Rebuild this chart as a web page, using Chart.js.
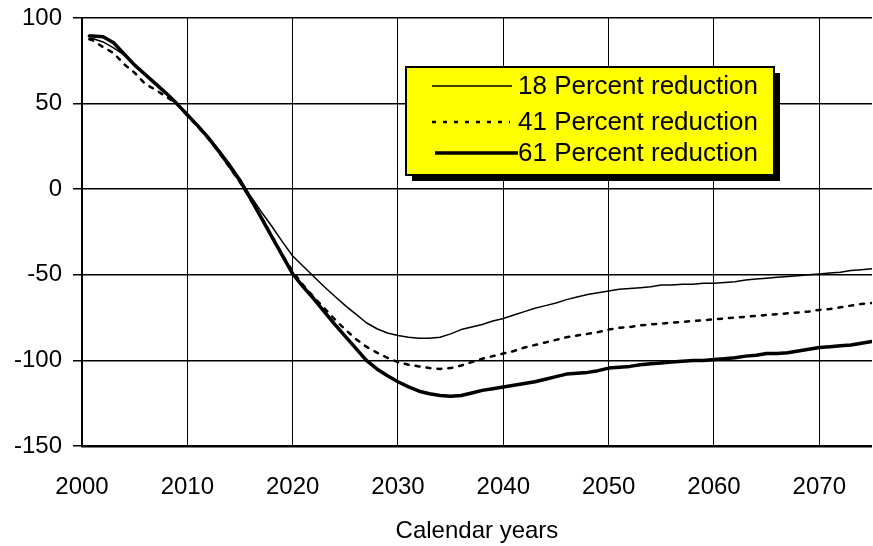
<!DOCTYPE html>
<html>
<head>
<meta charset="utf-8">
<script src="https://cdn.jsdelivr.net/npm/chart.js@4"></script>
<style>
  body { margin: 0; background: #fff; }
</style>
</head>
<body>
<canvas id="myChart" width="873" height="546"></canvas>
<script>
var years = [2000.7, 2001, 2002, 2003, 2004, 2005, 2006, 2007, 2008, 2009,
    2010, 2011, 2012, 2013, 2014, 2015, 2016, 2017, 2018, 2019,
    2020, 2021, 2022, 2023, 2024, 2025, 2026, 2027, 2028, 2029,
    2030, 2031, 2032, 2033, 2034, 2035, 2036, 2037, 2038, 2039,
    2040, 2041, 2042, 2043, 2044, 2045, 2046, 2047, 2048, 2049,
    2050, 2051, 2052, 2053, 2054, 2055, 2056, 2057, 2058, 2059,
    2060, 2061, 2062, 2063, 2064, 2065, 2066, 2067, 2068, 2069,
    2070, 2071, 2072, 2073, 2074, 2075];

var reduction18 = [88, 88, 86, 82.5, 78.5, 73, 67.5, 61.5, 56, 50,
    43.5, 37, 30.5, 23, 15, 6, -4, -13, -21.5, -30.5,
    -39, -45, -51, -57, -62.5, -68, -73, -78, -81.5, -84,
    -85.5, -86.5, -87, -87, -86.5, -84.5, -82, -80.5, -79, -77,
    -75.5, -73.5, -71.5, -69.5, -68, -66.5, -64.5, -63, -61.5, -60.5,
    -59.5, -58.5, -58, -57.5, -57, -56, -56, -55.5, -55.5, -55,
    -55, -54.5, -54, -53, -52.5, -52, -51.5, -51, -50.5, -50,
    -49.5, -49, -48.5, -47.5, -47, -46.5];

var reduction41 = [87.5, 87, 83, 79.5, 73, 68, 61.5, 58, 54, 50,
    43, 36.5, 29.5, 21.5, 13, 4, -6, -16, -27, -38,
    -48, -56, -63, -69.5, -76, -82, -87.5, -92, -95.5, -98.5,
    -101, -102.5, -103.5, -104.5, -105, -104.5, -103, -101, -99, -97.5,
    -96, -94.5, -92.5, -91, -89.5, -88, -86.5, -85.5, -84.5, -83.5,
    -82, -81, -80.5, -79.5, -79, -78.5, -78, -77.5, -77, -76.5,
    -76, -75.5, -75, -74.5, -74, -73.5, -73, -72.5, -72, -71.5,
    -70.5, -70, -69, -68, -67, -66.5];

var reduction61 = [89.5, 89.5, 89, 85.5, 79, 72.5, 67, 61.5, 56, 50,
    43.5, 37, 30, 22, 13.5, 5, -5.5, -16.5, -27.5, -38.5,
    -49.5, -57, -64, -71.5, -79, -86, -93, -100, -105, -109,
    -112.5, -115.5, -118, -119.5, -120.5, -121, -120.5, -119, -117.5, -116.5,
    -115.5, -114.5, -113.5, -112.5, -111, -109.5, -108, -107.5, -107, -106,
    -104.5, -104, -103.5, -102.5, -102, -101.5, -101, -100.5, -100, -100,
    -99.5, -99, -98.5, -97.5, -97, -96, -96, -95.5, -94.5, -93.5,
    -92.5, -92, -91.5, -91, -90, -89];

var seriesLabels = ['18 Percent reduction', '41 Percent reduction', '61 Percent reduction'];
var yTicks = [-150, -100, -50, 0, 50, 100];
var xTicks = [2000, 2010, 2020, 2030, 2040, 2050, 2060, 2070];

function points(values) {
    return years.map(function (yr, i) { return { x: yr, y: values[i] }; });
}

var FONT = "'Liberation Sans', Arial, sans-serif";

// yellow legend box with drop shadow, drawn inside the plot
var boxLegend = {
    id: 'boxLegend',
    afterDraw: function (chart) {
        var c = chart.ctx;
        var bx = 406, by = 67, bw = 368, bh = 108;
        c.save();
        c.fillStyle = '#000';
        c.fillRect(bx + 6, by + 6, bw, bh);
        c.fillStyle = '#FFFF00';
        c.fillRect(bx, by, bw, bh);
        c.lineWidth = 2;
        c.strokeStyle = '#000';
        c.strokeRect(bx, by, bw, bh);

        var rows = [86, 122, 153];
        var lineX = [[432, 512], [432, 510], [435, 518]];
        c.font = '26px ' + FONT;
        c.textBaseline = 'middle';
        c.fillStyle = '#000';
        chart.data.datasets.forEach(function (ds, i) {
            c.beginPath();
            c.lineWidth = ds.borderWidth;
            c.setLineDash(ds.borderDash || []);
            c.moveTo(lineX[i][0], rows[i]);
            c.lineTo(lineX[i][1], rows[i]);
            c.stroke();
            c.setLineDash([]);
            c.fillText(ds.label, 518, rows[i] + 1);
        });
        c.restore();
    }
};

var ctx = document.getElementById('myChart').getContext('2d');
var myChart = new Chart(ctx, {
    type: 'line',
    data: {
        datasets: [{
            label: seriesLabels[0],
            data: points(reduction18),
            borderColor: '#000',
            borderWidth: 1.5,
        }, {
            label: seriesLabels[1],
            data: points(reduction41),
            borderColor: '#000',
            borderWidth: 2.5,
            borderDash: [4, 7],
        }, {
            label: seriesLabels[2],
            data: points(reduction61),
            borderColor: '#000',
            borderWidth: 3.5,
        }]
    },
    options: {
        responsive: false,
        animation: false,
        layout: { padding: { top: 18, right: 0, left: 0, bottom: 0 } },
        elements: {
            point: { radius: 0 },
            line: { tension: 0, borderCapStyle: 'round', borderJoinStyle: 'round' }
        },
        plugins: {
            legend: { display: false },
            tooltip: { enabled: false }
        },
        scales: {
            x: {
                type: 'linear',
                min: 2000,
                max: 2075,
                afterBuildTicks: function (axis) {
                    axis.ticks = xTicks.map(function (v) { return { value: v }; });
                },
                afterFit: function (axis) { axis.height = 100; },
                ticks: {
                    color: '#000',
                    padding: 27,
                    maxRotation: 0,
                    font: { family: FONT, size: 24 },
                    callback: function (v) { return String(v); }
                },
                grid: { color: '#000', lineWidth: 1, drawTicks: false },
                border: { color: '#000', width: 2.5 },
                title: {
                    display: true,
                    text: 'Calendar years',
                    color: '#000',
                    padding: { top: 0, bottom: 0 },
                    font: { family: FONT, size: 24 }
                }
            },
            y: {
                min: -150,
                max: 100,
                afterBuildTicks: function (axis) {
                    axis.ticks = yTicks.map(function (v) { return { value: v }; });
                },
                afterFit: function (axis) {
                    axis.width = 82;
                    axis.paddingTop = 0;
                    axis.paddingBottom = 0;
                },
                ticks: {
                    color: '#000',
                    padding: 11,
                    font: { family: FONT, size: 24 },
                    callback: function (v) { return String(v); }
                },
                grid: { color: '#000', lineWidth: 1.5, tickLength: 9 },
                border: { color: '#000', width: 2 }
            }
        }
    },
    plugins: [boxLegend]
});
</script>
</body>
</html>
